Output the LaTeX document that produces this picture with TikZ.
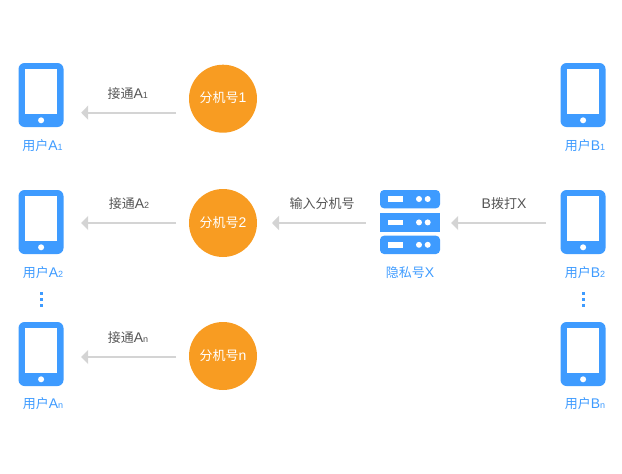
\documentclass[tikz,border=0pt]{standalone}
\usepackage{fontspec}
\setmainfont{Noto Sans CJK SC}
\newfontfamily\latn{Liberation Sans}
\usetikzlibrary{arrows.meta}
\definecolor{bluec}{HTML}{3E9BFF}
\definecolor{orangec}{HTML}{F89C22}
\definecolor{linec}{HTML}{D4D4D4}
\definecolor{textc}{HTML}{555555}
\newcommand{\subtxt}[1]{{\latn\fontsize{9}{9}\selectfont #1}}
\newcommand{\ltx}[1]{{\latn\fontsize{14}{14}\selectfont #1}}
\tikzset{
  x=1pt,y=-1pt,
  phone/.style={draw=none,fill=bluec,rounded corners=6pt,minimum width=45pt,minimum height=64pt,inner sep=0,outer sep=0},
  screen/.style={draw=none,fill=white,minimum width=32.4pt,minimum height=44.8pt,inner sep=0},
  btn/.style={circle,fill=white,minimum size=6pt,inner sep=0},
  ball/.style={circle,fill=orangec,minimum size=68pt,inner sep=0,outer sep=0,text=white,font=\fontsize{13}{13}\selectfont,text height=10pt,text depth=2pt},
  conn/.style={linec,line width=2pt,-{Triangle[length=7pt,width=14pt]},shorten <=13pt},
  lab/.style={text=bluec,inner sep=0,font=\fontsize{13}{13}\selectfont,text height=10pt,text depth=2pt},
  clab/.style={text=textc,inner sep=0,font=\fontsize{13}{13}\selectfont,text height=10pt,text depth=2pt},
  vdot/.style={fill=bluec,minimum size=3pt,inner sep=0},
  rack/.style={fill=bluec,minimum width=60pt,inner sep=0,outer sep=0},
  slot/.style={fill=white,minimum width=15pt,minimum height=5.5pt,inner sep=0},
  led/.style={circle,fill=white,minimum size=6pt,inner sep=0},
}
\newcommand{\phonenode}[3]{%
  \node[phone] (#1) at (#2,#3) {};
  \node[screen] (#1s) at (#2+0.2,#3-3.35) {};
  \node[btn] (#1b) at (#2+0.1,#3+25.3) {};
}
\newcommand{\rackslots}[2]{%
  \node[slot] (#1s) at (395.8,#2) {};
  \node[led] (#1a) at (419,#2) {};
  \node[led] (#1b) at (427.7,#2) {};
}
\begin{document}
\begin{tikzpicture}
\useasboundingbox (0,0) rectangle (622,474);
\phonenode{pa}{41}{95}
\phonenode{pb}{41}{222}
\phonenode{pn}{41}{354}
\phonenode{qa}{583}{95}
\phonenode{qb}{583}{222}
\phonenode{qn}{583}{354}
\node[ball] (ca) at (223,98.7) {分机号\ltx{1}};
\node[ball] (cb) at (223,223) {分机号\ltx{2}};
\node[ball] (cn) at (223,356) {分机号\ltx{n}};
% server
\node[rack,minimum height=18.4pt,rounded corners=0pt] (r2) at (410,222.5) {};
\fill[bluec,rounded corners=4pt] (380,208.3) -- (380,190) -- (440,190) -- (440,208.3) -- cycle;
\fill[bluec,rounded corners=4pt] (380,235.7) -- (380,254) -- (440,254) -- (440,235.7) -- cycle;
\node[inner sep=0,minimum width=60pt,minimum height=64pt] (srv) at (410,222) {};
\rackslots{ra}{199}
\rackslots{rb}{222.4}
\rackslots{rc}{244.8}
% connectors
\coordinate (ya) at (0,112.7);
\coordinate (yb) at (0,223);
\coordinate (yn) at (0,357);
\draw[conn,shorten >=17.7pt] (ca.west |- ya) -- (pa.east |- ya);
\draw[conn,shorten >=17.7pt] (cb.west |- yb) -- (pb.east |- yb);
\draw[conn,shorten >=17.7pt] (cn.west |- yn) -- (pn.east |- yn);
\draw[conn,shorten <=14pt,shorten >=15pt] (srv.west |- yb) -- (cb.east |- yb);
\draw[conn,shorten <=14.5pt,shorten >=11pt] (qb.west |- yb) -- (srv.east |- yb);
% labels
\node[lab] (la) at (42.5,146) {用户\ltx{A}\subtxt{1}};
\node[lab] (lb) at (43,273) {用户\ltx{A}\subtxt{2}};
\node[lab] (ln) at (43,404) {用户\ltx{A}\subtxt{n}};
\node[lab] (ma) at (585,146) {用户\ltx{B}\subtxt{1}};
\node[lab] (mb) at (585,273) {用户\ltx{B}\subtxt{2}};
\node[lab] (mn) at (585,404) {用户\ltx{B}\subtxt{n}};
\node[lab] (lx) at (410,273) {隐私号\ltx{X}};
\node[clab] (ta) at (127.7,94) {接通\ltx{A}\subtxt{1}};
\node[clab] (tb) at (129,204) {接通\ltx{A}\subtxt{2}};
\node[clab] (tn) at (128,338) {接通\ltx{A}\subtxt{n}};
\node[clab] (ti) at (322,204) {输入分机号};
\node[clab] (tx) at (504,204) {\ltx{B}拨打\ltx{X}};
% ellipsis dots
\node[vdot] (d1) at (41.7,293.5) {};
\node[vdot] (d2) at (41.7,299.7) {};
\node[vdot] (d3) at (41.7,305.5) {};
\node[vdot] (e1) at (583.7,293.5) {};
\node[vdot] (e2) at (583.7,299.7) {};
\node[vdot] (e3) at (583.7,305.5) {};
\end{tikzpicture}
\end{document}
